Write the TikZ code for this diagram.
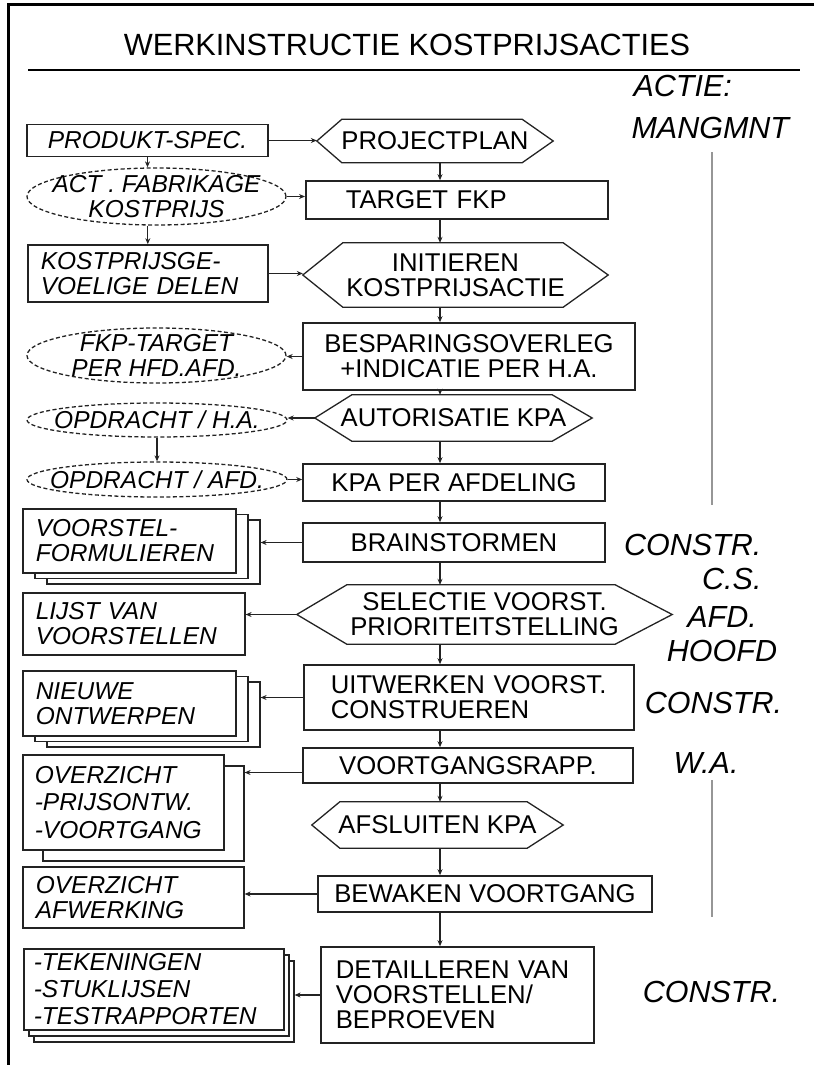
\documentclass[tikz,border=0pt]{standalone}
\usepackage{fontspec}
\setmainfont{Liberation Sans}
\usetikzlibrary{arrows.meta, positioning, shapes.geometric, calc, shadows}
\definecolor{dkGray}  {RGB}{35,35,35}
\definecolor{barGray} {RGB}{150,150,150}
\newcommand\hexline[3]{\draw[HEXEDGE] (#1.west) -- ($(#1.north west)+(#2,0)$) -- ($(#1.north east)+(-#3,0)$) -- (#1.east) -- ($(#1.south east)+(-#3,0)$) -- ($(#1.south west)+(#2,0)$) -- cycle;}

\begin{document}
\begin{tikzpicture}[x=1pt, y=-1pt,
    BOX/.style={draw=dkGray, line width=1.6pt, fill=white, inner sep=0pt, font={\fontsize{25.7}{25}\selectfont}},
    LBOX/.style={draw=dkGray, line width=1.6pt, fill=white, inner sep=0pt, align=left, font={\fontsize{24.5}{25}\selectfont\itshape}},
    ELL/.style={ellipse, draw=dkGray, line width=1.3pt, dash pattern=on 4pt off 2.5pt, inner xsep=-60pt, inner ysep=-30pt, align=center, font={\fontsize{24.5}{25}\selectfont\itshape}},
    HEX/.style={inner sep=0pt, align=center, font={\fontsize{25.7}{25}\selectfont}},
    HEXEDGE/.style={draw=dkGray, line width=1.3pt},
    STACK/.style={copy shadow={shadow xshift=24pt, shadow yshift=-11pt, draw=dkGray, line width=1.6pt}, copy shadow={shadow xshift=12pt, shadow yshift=-5.5pt, draw=dkGray, line width=1.6pt}},
    ROLE/.style={font={\fontsize{30.5}{34}\selectfont\itshape}},
    ARR/.style={-{Stealth[length=6pt,width=5pt]}, line width=1.2pt, dkGray},
    BAR/.style={line width=2pt, barGray}]
    \useasboundingbox (0,0) rectangle (814,1065);
    % frame and title
    \draw[line width=3pt] (814,5) -- (8,5) -- (8,1065);
    \node[font={\fontsize{30.7}{32}\selectfont}] (title) at (407,45) {WERKINSTRUCTIE KOSTPRIJSACTIES};
    \draw[line width=2.5pt] (28,70) -- (800,70);
    % main column
    \node[HEX, minimum width=236pt, minimum height=43pt] (projplan) at (435,141) {PROJECTPLAN};
    \node[BOX, anchor=west, align=left, inner xsep=40pt, text width=222pt, minimum height=38pt] (target) at (305,200) {TARGET FKP};
    \node[HEX, minimum width=305pt, minimum height=64pt] (init) at (455.5,275) {INITIEREN\\KOSTPRIJSACTIE};
    \node[BOX, align=center, minimum width=332pt, minimum height=67pt] (bespar) at (469,356.5) {BESPARINGSOVERLEG\\+INDICATIE PER H.A.};
    \node[HEX, minimum width=277pt, minimum height=46pt] (autor) at (453.5,418) {AUTORISATIE KPA};
    \node[BOX, minimum width=302pt, minimum height=37pt] (kpa) at (454,482.5) {KPA PER AFDELING};
    \node[BOX, minimum width=302pt, minimum height=39pt] (brain) at (454,542.5) {BRAINSTORMEN};
    \node[HEX, minimum width=375pt, minimum height=59pt] (select) at (484.5,614.5) {SELECTIE VOORST.\\PRIORITEITSTELLING};
    \node[BOX, anchor=west, align=left, inner xsep=27pt, text width=276pt, minimum height=65pt] (uitw) at (303,697.5) {UITWERKEN VOORST.\\CONSTRUEREN};
    \node[BOX, minimum width=330pt, minimum height=35pt] (voortg) at (468,765.5) {VOORTGANGSRAPP.};
    \node[HEX, minimum width=251pt, minimum height=46pt] (afsl) at (437.5,825) {AFSLUITEN KPA};
    \node[BOX, minimum width=334pt, minimum height=36pt] (bewak) at (485,894) {BEWAKEN VOORTGANG};
    \node[BOX, anchor=west, align=left, inner xsep=15pt, text width=243pt, minimum height=96pt] (detail) at (320,995) {DETAILLEREN VAN\\VOORSTELLEN/\\BEPROEVEN};
    \hexline{projplan}{25}{31} \hexline{init}{40}{45} \hexline{autor}{37}{40} \hexline{select}{50}{57} \hexline{afsl}{28}{36}
    % left column
    \node[LBOX, align=center, minimum width=241pt, minimum height=32pt] (prod) at (147.5,140.5) {PRODUKT-SPEC.};
    \node[ELL, minimum width=259pt, minimum height=57pt] (act) at (156.5,196.5) {ACT . FABRIKAGE\\KOSTPRIJS};
    \node[LBOX, anchor=west, inner xsep=13pt, text width=214pt, minimum height=57pt] (kost) at (27,273.5) {KOSTPRIJSGE-\\VOELIGE DELEN};
    \node[ELL, minimum width=259pt, minimum height=55pt] (fkp) at (156.5,355.5) {FKP-TARGET\\PER HFD.AFD.};
    \node[ELL, minimum width=260pt, minimum height=34pt] (opha) at (157,420) {OPDRACHT / H.A.};
    \node[ELL, minimum width=260pt, minimum height=35pt] (opafd) at (157,479.5) {OPDRACHT / AFD.};
    \node[LBOX, STACK, anchor=west, inner xsep=13pt, text width=187pt, minimum height=64pt] (voorst) at (22,541) {VOORSTEL-\\FORMULIEREN};
    \node[LBOX, anchor=west, inner xsep=13pt, text width=196pt, minimum height=62pt] (lijst) at (22,624) {LIJST VAN\\VOORSTELLEN};
    \node[LBOX, STACK, anchor=west, inner xsep=13pt, text width=187pt, minimum height=65pt] (nieuwe) at (22,703.5) {NIEUWE\\ONTWERPEN};
    \node[LBOX, copy shadow={shadow xshift=20pt, shadow yshift=-11pt, draw=dkGray, line width=1.6pt}, anchor=west, inner xsep=12pt, text width=177pt, minimum height=95pt, font={\fontsize{24.5}{27.5}\selectfont\itshape}] (overz) at (22,802.5) {OVERZICHT\\-PRIJSONTW.\\-VOORTGANG};
    \node[LBOX, anchor=west, inner xsep=13pt, text width=195pt, minimum height=61pt] (afwerk) at (22,897.5) {OVERZICHT\\AFWERKING};
    \node[LBOX, copy shadow={shadow xshift=10pt, shadow yshift=-12pt, draw=dkGray, line width=1.6pt}, copy shadow={shadow xshift=5pt, shadow yshift=-6pt, draw=dkGray, line width=1.6pt}, anchor=west, inner xsep=10pt, text width=240pt, minimum height=81pt, font={\fontsize{24.5}{27}\selectfont\itshape}] (teken) at (23,989.5) {-TEKENINGEN\\-STUKLIJSEN\\-TESTRAPPORTEN};
    % actors
    \node[ROLE, anchor=west] (actie) at (630,86) {ACTIE:};
    \node[ROLE, anchor=west] (mang) at (628,128) {MANGMNT};
    \node[ROLE, align=right, anchor=east] (constra) at (765,561.5) {CONSTR.\\C.S.};
    \node[ROLE, align=center] (afd) at (722,634) {AFD.\\HOOFD};
    \node[ROLE] (constrb) at (713.5,703) {CONSTR.};
    \node[ROLE] (wa) at (706,763) {W.A.};
    \node[ROLE] (constrc) at (711.5,992) {CONSTR.};
    \draw[BAR] (712,152) -- (712,505); \draw[BAR] (712,780) -- (712,917);
    % connectors
    \coordinate (spine) at (440,0);
    \draw[ARR] (projplan.south -| spine) -- (target.north -| spine); \draw[ARR] (target.south -| spine) -- (init.north -| spine);
    \draw[ARR] (init.south -| spine) -- (bespar.north -| spine); \draw[ARR] (bespar.south -| spine) -- (autor.north -| spine);
    \draw[ARR] (autor.south -| spine) -- (kpa.north -| spine); \draw[ARR] (kpa.south -| spine) -- (brain.north -| spine);
    \draw[ARR] (brain.south -| spine) -- (select.north -| spine); \draw[ARR] (select.south -| spine) -- (uitw.north -| spine);
    \draw[ARR] (uitw.south -| spine) -- (voortg.north -| spine); \draw[ARR] (voortg.south -| spine) -- (afsl.north -| spine);
    \draw[ARR] (afsl.south -| spine) -- (bewak.north -| spine); \draw[ARR] (bewak.south -| spine) -- (detail.north -| spine);
    \draw[ARR] (prod.south) -- (prod.south |- act.north); \draw[ARR] (kost.north |- act.south) -- (kost.north);
    \draw[ARR] (opha.south) -- (opafd.north);
    \draw[ARR] (prod.east) -- (prod.east -| projplan.west); \draw[ARR] (act.east) -- (act.east -| target.west);
    \draw[ARR] (kost.east) -- (kost.east -| init.west); \draw[ARR] (bespar.west) -- (bespar.west -| fkp.east);
    \draw[ARR] (autor.west) -- (autor.west -| opha.east); \draw[ARR] (opafd.east) -- (opafd.east -| kpa.west);
    \draw[ARR, shorten >=24pt] (brain.west) -- (brain.west -| voorst.east); \draw[ARR] (select.west) -- (select.west -| lijst.east);
    \draw[ARR, shorten >=24pt] (uitw.west) -- (uitw.west -| nieuwe.east); \draw[ARR, shorten >=20pt] ([yshift=-7pt]voortg.west) -- ([yshift=-7pt]voortg.west -| overz.east);
    \draw[ARR] (bewak.west) -- (bewak.west -| afwerk.east); \draw[ARR, shorten >=10pt] (detail.west) -- (detail.west -| teken.east);
\end{tikzpicture}
\end{document}
